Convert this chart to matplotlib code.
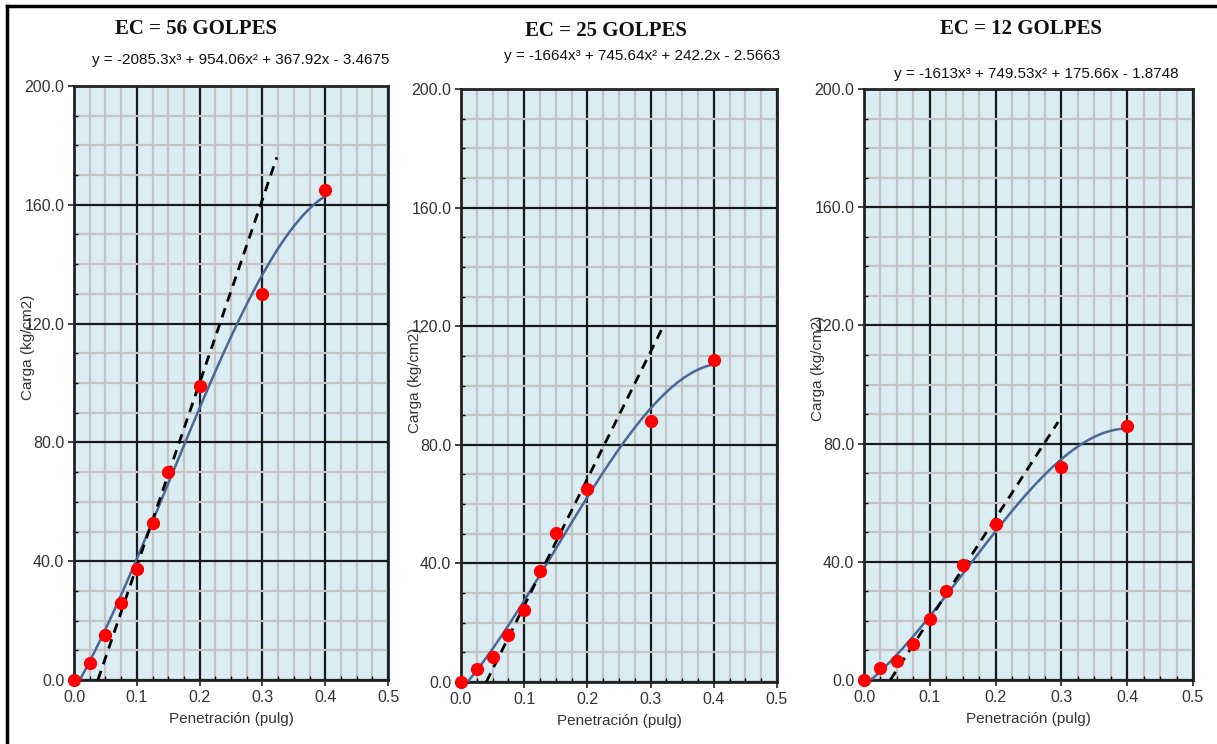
import numpy as np
import matplotlib
matplotlib.use("Agg")
import matplotlib.pyplot as plt
from matplotlib.ticker import MultipleLocator
from matplotlib.lines import Line2D

# datos de los tres ensayos
titulos = ["EC = 56 GOLPES", "EC = 25 GOLPES", "EC = 12 GOLPES"]
ecuaciones = [
    "y = -2085.3x³ + 954.06x² + 367.92x - 3.4675",
    "y = -1664x³ + 745.64x² + 242.2x - 2.5663",
    "y = -1613x³ + 749.53x² + 175.66x - 1.8748",
]
coef = [
    [-2085.3, 954.06, 367.92, -3.4675],
    [-1664.0, 745.64, 242.2, -2.5663],
    [-1613.0, 749.53, 175.66, -1.8748],
]
penetracion = [0.0, 0.025, 0.05, 0.075, 0.1, 0.125, 0.15, 0.2, 0.3, 0.4]
carga_56 = [0.0, 5.7, 15.0, 26.0, 37.3, 53.0, 70.0, 99.0, 130.0, 165.0]
carga_25 = [0.0, 4.4, 8.4, 15.9, 24.3, 37.4, 50.3, 65.1, 88.0, 108.6]
carga_12 = [0.0, 4.1, 6.4, 12.2, 20.6, 30.0, 39.0, 52.8, 72.0, 86.0]
cargas = [carga_56, carga_25, carga_12]
# tangentes (linea discontinua)
tang_x = [[0.038, 0.323], [0.040, 0.321], [0.040, 0.295]]
tang_y = [[0.0, 176.0], [0.0, 120.4], [0.0, 87.3]]

W, H = 1217, 744
fig = plt.figure(figsize=(W / 100, H / 100), dpi=100)

# posiciones en pixeles: izquierda, derecha, arriba, abajo
cajas = [(74, 388, 86, 680), (461, 777, 89, 682), (864, 1193, 89, 680)]
pos_titulo = [(196, 29), (606, 31), (1021, 29)]
pos_ecuacion = [(241, 60), (642, 56), (1036, 74)]
pos_ylabel = [(35, 347), (422, 380), (825, 368)]

for i in range(3):
    l, r, t, b = cajas[i]
    ax = fig.add_axes([l / W, 1 - b / H, (r - l) / W, (b - t) / H])
    ax.set_facecolor("#daedf3")
    ax.set_xlim(0, 0.5)
    ax.set_ylim(0, 200)
    ax.xaxis.set_major_locator(MultipleLocator(0.1))
    ax.xaxis.set_minor_locator(MultipleLocator(0.025))
    ax.yaxis.set_major_locator(MultipleLocator(40))
    ax.yaxis.set_minor_locator(MultipleLocator(10))
    ax.xaxis.set_major_formatter(lambda v, p: f"{v:.1f}")
    ax.yaxis.set_major_formatter(lambda v, p: f"{v:.1f}")
    ax.grid(which="minor", color="#c4c4c4", lw=1.6, zorder=0)
    ax.grid(which="major", color="#1a1a1a", lw=1.6, zorder=0.5)
    ax.set_axisbelow(True)
    for s in ax.spines.values():
        s.set_linewidth(2)
        s.set_color("#222222")
    ax.tick_params(which="major", direction="out", length=4, width=1.2,
                   labelsize=11.5, colors="#222222", labelcolor="#333333", pad=3)
    ax.tick_params(which="minor", direction="in", length=3, width=1.0)

    # curva polinomica
    p = np.poly1d(coef[i])
    raices = [z.real for z in p.r if abs(z.imag) < 1e-9 and 0 < z.real < 0.1]
    x0 = raices[0] if raices else 0.0
    xs = np.linspace(x0, 0.4, 200)
    ax.plot(xs, p(xs), color="#4a6796", lw=1.8, zorder=3)
    ax.plot(tang_x[i], tang_y[i], color="black", ls=(0, (3.5, 2.5)), lw=2, zorder=4)
    ax.plot(penetracion, cargas[i], "o", color="red", ms=8.5, mec="red", zorder=5,
            clip_on=False)

    ax.set_xlabel("Penetración (pulg)", fontsize=11, color="#333333", labelpad=5,
                  family="Liberation Sans")
    ax.set_ylabel("Carga (kg/cm2)", fontsize=11, color="#333333",
                  family="Liberation Sans")
    yx, yy = pos_ylabel[i]
    ax.yaxis.set_label_coords((yx - l) / (r - l), (b - yy) / (b - t))
    for lab in ax.get_xticklabels() + ax.get_yticklabels():
        lab.set_family("Liberation Sans")

    tx, ty = pos_titulo[i]
    fig.text(tx / W, 1 - ty / H, titulos[i], ha="center", va="center",
             family="Liberation Serif", weight="bold", fontsize=15, color="#111111")
    ex, ey = pos_ecuacion[i]
    fig.text(ex / W, 1 - ey / H, ecuaciones[i], ha="center", va="center",
             family="Liberation Sans", fontsize=11, color="#111111")

# borde exterior
fig.add_artist(Line2D([7 / W, 7 / W], [0, 1 - 6 / H], color="black", lw=2.5,
                      transform=fig.transFigure))
fig.add_artist(Line2D([7 / W, 1], [1 - 6 / H, 1 - 6 / H], color="black", lw=2.5,
                      transform=fig.transFigure))

fig.savefig("out.png", dpi=100)
